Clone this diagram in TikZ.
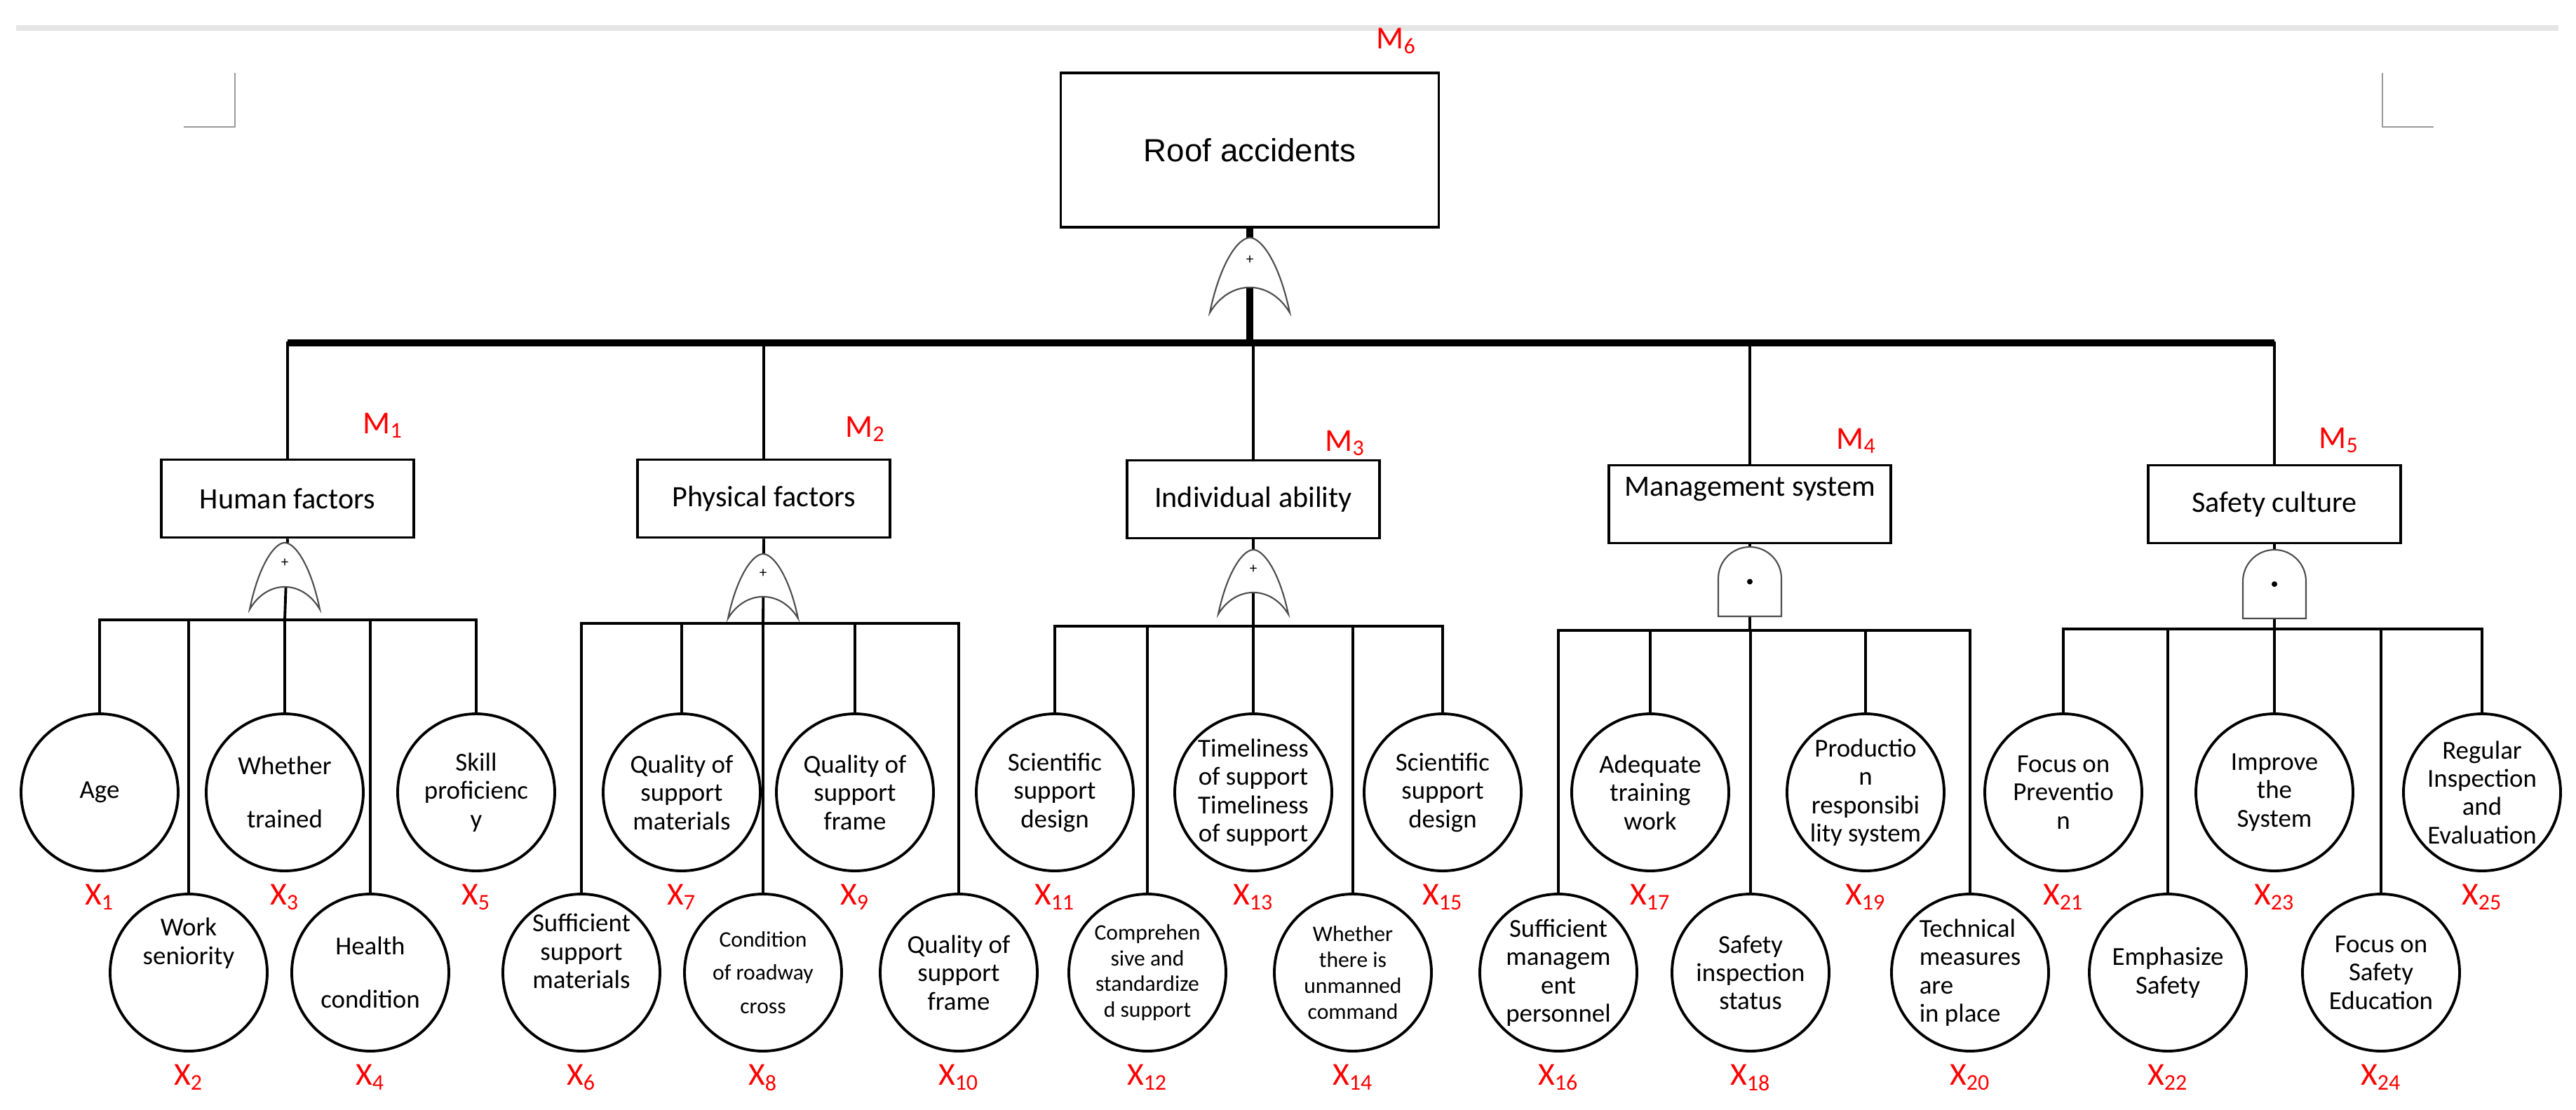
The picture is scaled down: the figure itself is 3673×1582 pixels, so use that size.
\documentclass[tikz,border=0pt]{standalone}
\usepackage{fontspec}
\setmainfont{Carlito}
\newfontfamily\arialfont{Liberation Sans}
\usetikzlibrary{positioning}

\tikzset{
  event/.style={draw,line width=1pt,minimum width=36mm,minimum height=11.1mm,font=\fontsize{12}{14}\selectfont},
  leaf/.style={draw,circle,line width=1.1pt,minimum size=22.4mm,inner sep=0pt,align=center,font=\fontsize{10.5}{11.5}\selectfont},
  small/.style={font=\fontsize{9}{10.5}\selectfont},
  tag/.style={text=red,font=\fontsize{13}{13}\selectfont},
  wire/.style={line width=1.1pt},
  gate/.style={draw=black!70,line width=0.6pt,fill=white},
}
% or gate: centre x, top, bottom, half width
\newcommand{\orgate}[4]{%
  \path[gate] (#1-#4,#3) .. controls (#1-#4+0.25*#4,#2+0.35*#3-0.35*#2) and (#1-0.3*#4,#2) .. (#1,#2)
    .. controls (#1+0.3*#4,#2) and (#1+0.75*#4,#2+0.35*#3-0.35*#2) .. (#1+#4,#3)
    .. controls (#1+0.5*#4,#3-0.45*#3+0.45*#2) and (#1-0.5*#4,#3-0.45*#3+0.45*#2) .. cycle;
  \node[font=\fontsize{6}{6}\selectfont] at (#1,#2+0.3*#3-0.3*#2) {+};}
% and gate
\newcommand{\andgate}[4]{%
  \path[gate] (#1-#4,#3) -- (#1-#4,#2+#4) arc[start angle=180,end angle=0,x radius=#4*0.1mm,y radius=#4*0.1mm] -- (#1+#4,#3) -- cycle;
  \fill (#1,#2+0.5*#3-0.5*#2) circle[radius=0.4mm];}

\begin{document}
\begin{tikzpicture}[x=0.1mm,y=-0.1mm]
\useasboundingbox (0,0) rectangle (3673,1582);
% page marks
\draw[black!10,line width=2pt] (23,40) -- (3648,40);
\draw[black!40,line width=0.6pt] (335,104) -- (335,181) -- (262,181);
\draw[black!40,line width=0.6pt] (3397,104) -- (3397,181) -- (3470,181);

% top event
\node[event,minimum width=53.9mm,minimum height=22mm,font=\arialfont\fontsize{13}{15}\selectfont] (top) at (1782,214) {Roof accidents};
\node[tag] at (1991,58) {M\textsubscript{6}};
\coordinate (bus) at (1782,489);
\draw[line width=2.8pt] (top.south) -- (bus);
\orgate{1782}{339}{446}{57}

% intermediate events
\node[event] (m1) at (410,711) {Human factors};
\node[event] (m2) at (1089,711) {Physical factors};
\node[event] (m3) at (1787,712) {Individual ability};
\node[event,minimum width=40.2mm] (m4) at (2495,719) {\raisebox{14pt}{Management system}};
\node[event] (m5) at (3243,719) {Safety culture};
\node[tag] at (546,607) {M\textsubscript{1}};
\node[tag] at (1234,612) {M\textsubscript{2}};
\node[tag] at (1918,632) {M\textsubscript{3}};
\node[tag] at (2647,629) {M\textsubscript{4}};
\node[tag] at (3335,628) {M\textsubscript{5}};
\draw[line width=2.6pt] (m1.north |- bus) -- (m5.north |- bus);
\foreach \m in {1,...,5}
  \draw[wire] (bus) -| (m\m.north);

% junctions under the gates
\coordinate (j1) at (406,884);
\coordinate (j2) at (1088,889);
\coordinate (j3) at (1787,893);
\coordinate (j4) at (2495,899);
\coordinate (j5) at (3243,897);
\foreach \m in {1,...,5}
  \draw[wire] (m\m.south) -- (j\m);
\orgate{406}{774}{869}{50}
\orgate{1088}{790}{882}{50}
\orgate{1787}{784}{876}{50}
\andgate{2495}{780}{879}{45}
\andgate{3243}{784}{882}{45}

% basic events
\foreach \i/\x/\y/\t in {
  1/142/1130/{Age},
  2/269/1387/{Work\\seniority\\[14pt]},
  3/406/1130/{Whether\\[10pt]trained},
  4/528/1387/{Health\\[10pt]condition},
  5/679/1130/{Skill\\proficienc\\y},
  6/829/1387/{Sufficient\\support\\materials\\[6pt]},
  7/972/1130/{Quality of\\support\\materials},
  9/1219/1130/{Quality of\\support\\frame},
  10/1367/1387/{Quality of\\support\\frame},
  11/1504/1130/{Scientific\\support\\design},
  13/1787/1130/{Timeliness\\of support\\Timeliness\\of support},
  15/2057/1130/{Scientific\\support\\design},
  16/2222/1387/{Sufficient\\managem\\ent\\personnel},
  17/2353/1130/{Adequate\\training\\work},
  18/2496/1387/{Safety\\inspection\\status},
  19/2660/1130/{Productio\\n\\responsibi\\lity system},
  21/2942/1130/{Focus on\\Preventio\\n},
  22/3091/1387/{Emphasize\\Safety},
  23/3243/1130/{Improve\\the\\System},
  24/3395/1387/{Focus on\\Safety\\Education},
  25/3539/1130/{Regular\\Inspection\\and\\Evaluation}}
  \node[leaf] (x\i) at (\x,\y) {\t};
\node[leaf,small] (x8) at (1088,1387) {Condition\\[3pt]of roadway\\[3pt]cross};
\node[leaf,small] (x12) at (1636,1387) {Comprehen\\sive and\\standardize\\d support};
\node[leaf,small] (x14) at (1929,1387) {Whether\\there is\\unmanned\\command};
\node[leaf,align=left] (x20) at (2809,1387) {Technical\\measures\\are\\in place};

% labels
\foreach \i in {1,...,25}
  \node[tag,below=0.5mm of x\i] {X\textsubscript{\i}};

% connectors
\foreach \i in {1,...,5} \draw[wire] (j1) -| (x\i.north);
\foreach \i in {6,...,10} \draw[wire] (j2) -| (x\i.north);
\foreach \i in {11,...,15} \draw[wire] (j3) -| (x\i.north);
\foreach \i in {16,...,20} \draw[wire] (j4) -| (x\i.north);
\foreach \i in {21,...,25} \draw[wire] (j5) -| (x\i.north);
\end{tikzpicture}
\end{document}
